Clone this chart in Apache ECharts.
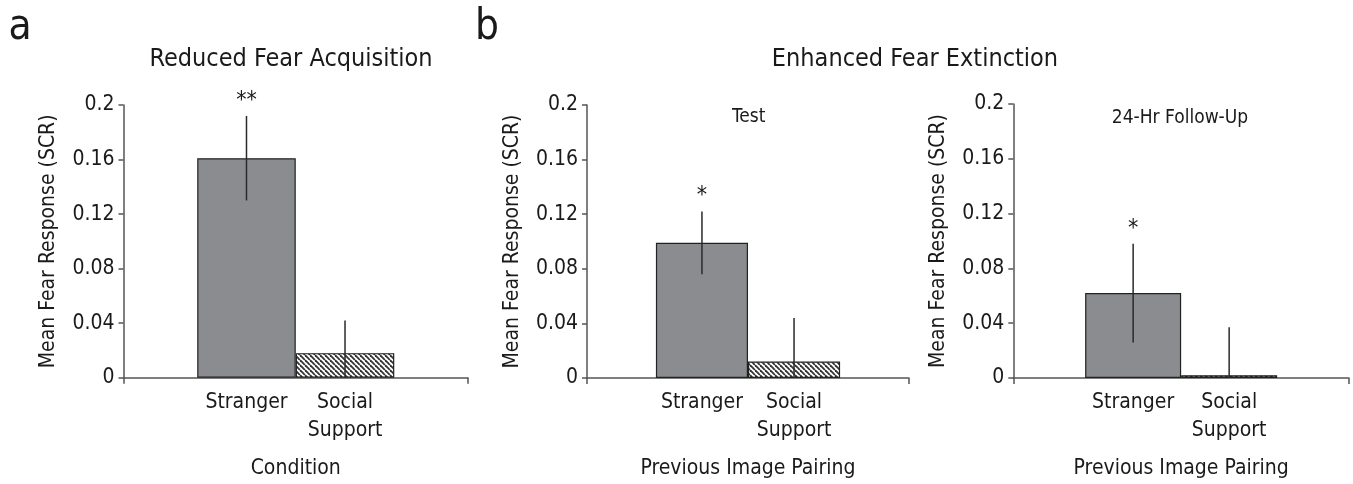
<!DOCTYPE html>
<html>
<head>
<meta charset="utf-8">
<script src="https://cdn.jsdelivr.net/npm/echarts@6/dist/echarts.min.js"></script>
<style>
html,body{margin:0;padding:0;background:#fff;}
#chart{width:1353px;height:484px;}
</style>
</head>
<body>
<div id="chart"></div>
<script>
// ---- data ----
const categories = ['Stranger', 'Social\nSupport'];
const acqMeans = [0.161, 0.018];
const acqErr = [0.031, 0.024];
const testMeans = [0.099, 0.012];
const testErr = [0.023, 0.032];
const followMeans = [0.062, 0.002];
const followErr = [0.036, 0.035];
const sigLabels = ['**', '*', '*'];
const yMin = 0, yMax = 0.2, yInterval = 0.04;
const panelTitles = ['Reduced Fear Acquisition', 'Enhanced Fear Extinction'];
const subTitles = ['Test', '24-Hr Follow-Up'];
const xNames = ['Condition', 'Previous Image Pairing', 'Previous Image Pairing'];
const yName = 'Mean Fear Response (SCR)';

// ---- style ----
const FONT = "'Liberation Sans Narrow', 'DejaVu Sans Condensed', 'Roboto', sans-serif";
const TXT = '#1a1a1a';
const AXIS = '#555';
const BAR_FRAC = 0.286;

const hatch = document.createElement('canvas');
hatch.width = 5; hatch.height = 5;
(function(){
  const c = hatch.getContext('2d');
  c.fillStyle = '#fff'; c.fillRect(0,0,5,5);
  c.strokeStyle = '#333'; c.lineWidth = 1.8;
  for (const k of [-5, 0, 5]) { c.beginPath(); c.moveTo(k, 0); c.lineTo(k + 5, 5); c.stroke(); }
})();

const grids = [
  {left: 123.5, right: 885, top: 105, bottom: 106.3},
  {left: 587, right: 444, top: 105, bottom: 103.7},
  {left: 1013.3, right: 4, top: 104, bottom: 104}
];
const means = [acqMeans, testMeans, followMeans];
const errs = [acqErr, testErr, followErr];

const xAxes = [], yAxes = [], series = [];
grids.forEach((g, i) => {
  xAxes.push({
    type: 'category', gridIndex: i, data: [''],
    axisLine: {lineStyle: {color: AXIS, width: 1.5}},
    axisTick: {show: true, length: 6, lineStyle: {color: AXIS, width: 1.5}},
    axisLabel: {show: false},
    name: xNames[i], nameLocation: 'middle', nameGap: 80,
    nameTextStyle: {fontFamily: FONT, fontSize: 21, color: TXT}
  });
  yAxes.push({
    type: 'value', gridIndex: i, min: yMin, max: yMax, interval: yInterval,
    axisLine: {show: true, lineStyle: {color: AXIS, width: 1.5}},
    axisTick: {show: true, length: 5, lineStyle: {color: AXIS, width: 1.5}},
    splitLine: {show: false},
    axisLabel: {fontFamily: FONT, fontSize: 21, color: TXT, margin: 9},
    name: yName, nameLocation: 'middle', nameGap: 64, nameRotate: 90,
    nameTextStyle: {fontFamily: FONT, fontSize: 21, color: TXT}
  });
  [0, 1].forEach(j => {
    series.push({
      type: 'bar', xAxisIndex: i, yAxisIndex: i,
      data: [means[i][j]],
      barWidth: (BAR_FRAC * 100) + '%', barGap: '0%',
      itemStyle: j === 0
        ? {color: '#8b8c8f', borderColor: '#222', borderWidth: 1.2}
        : {color: {image: hatch, repeat: 'repeat'}, borderColor: '#222', borderWidth: 1.2},
      label: {show: true, position: 'bottom', distance: 11,
        formatter: () => categories[j],
        fontFamily: FONT, fontSize: 21, color: TXT, lineHeight: 28, align: 'center'},
      silent: true, animation: false
    });
  });
  series.push({
    type: 'custom', xAxisIndex: i, yAxisIndex: i,
    data: [0, 1].map(j => [0, means[i][j], errs[i][j], j]),
    renderItem: (params, api) => {
      const cat = api.value(0), v = api.value(1), e = api.value(2), idx = api.value(3);
      const band = api.size([1, 0])[0];
      const bw = band * BAR_FRAC;
      const cx = api.coord([cat, 0])[0] + (idx === 0 ? -bw / 2 : bw / 2);
      const top = api.coord([cat, v + e])[1];
      const bot = api.coord([cat, Math.max(0, v - e)])[1];
      const children = [{
        type: 'line', shape: {x1: cx, y1: top, x2: cx, y2: bot},
        style: {stroke: '#2a2a2a', lineWidth: 1.5}
      }];
      if (idx === 0) {
        children.push({type: 'text', x: cx, y: top - 15,
          style: {text: sigLabels[i], textAlign: 'center', textVerticalAlign: 'middle',
            fontFamily: FONT, fontSize: 23, fill: TXT}});
      }
      return {type: 'group', children};
    },
    silent: true, animation: false, z: 5
  });
});

const textEl = (t, x, y, size) => ({type: 'text', x, y,
  style: {text: t, fontFamily: FONT, fontSize: size, fill: TXT, textAlign: 'center', textVerticalAlign: 'middle'}});

const option = {
  animation: false,
  grid: grids,
  xAxis: xAxes,
  yAxis: yAxes,
  series,
  graphic: [
    textEl('a', 20, 28, 42),
    textEl('b', 487, 28, 42),
    textEl(panelTitles[0], 291, 59, 25),
    textEl(panelTitles[1], 915, 59, 25),
    textEl(subTitles[0], 748.7, 117, 19),
    textEl(subTitles[1], 1180, 118, 19)
  ]
};
const chart = echarts.init(document.getElementById('chart'), null, {renderer: 'canvas'});
chart.setOption(option);
</script>
</body>
</html>
